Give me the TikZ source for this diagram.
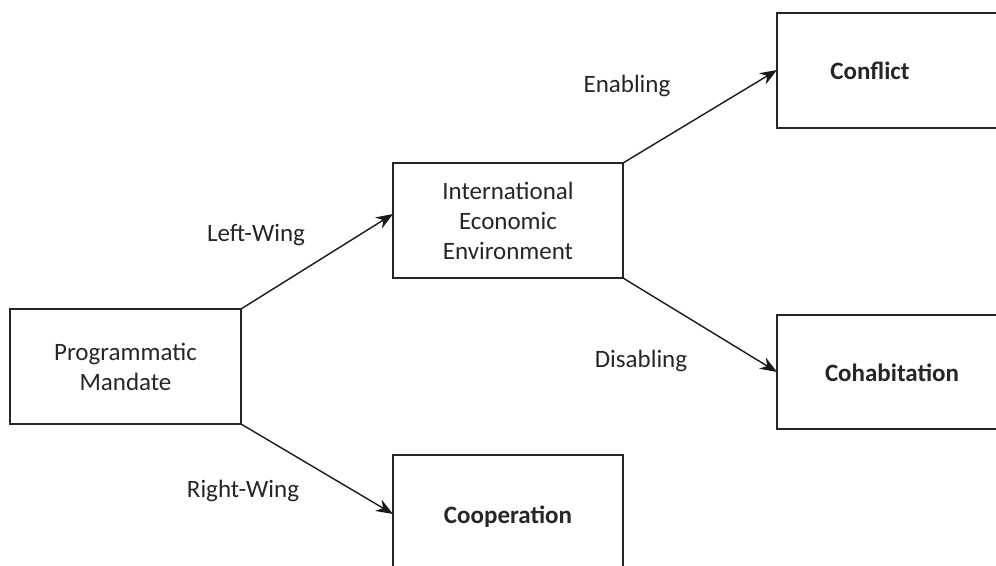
\documentclass[tikz,border=0pt]{standalone}
\usepackage{fontspec}
\setmainfont{Carlito}
\usetikzlibrary{arrows.meta}
\begin{document}
\begin{tikzpicture}[x=1pt,y=-1pt,
  box/.style={draw=black!85,line width=1.3pt,inner sep=0pt,outer sep=0pt,rectangle},
  txt/.style={font=\fontsize{25}{30}\selectfont,align=center,text=black!85,inner sep=0pt},
  btxt/.style={font=\fontsize{25}{30}\selectfont\bfseries,text=black!85,inner sep=0pt},
  lab/.style={font=\fontsize{25}{30}\selectfont,text=black!85,inner sep=0pt},
  arr/.style={draw=black!90,line width=1.4pt,-{Stealth[length=17pt,width=13pt]}}]
\useasboundingbox (0,0) rectangle (996,565);
\clip (0,0) rectangle (996,565);
% boxes
\node[box,minimum width=231pt,minimum height=115pt] (pm) at (125.5,366.5) {};
\node[txt] (pmt) at (125.5,367) {Programmatic\\Mandate};
\node[box,minimum width=230pt,minimum height=115pt] (iee) at (508,220.5) {};
\node[txt] (ieet) at (508,221) {International\\Economic\\Environment};
\node[box,minimum width=250pt,minimum height=115pt] (con) at (902,70.5) {};
\node[btxt] (cont) at (870,71) {Conflict};
\node[box,minimum width=250pt,minimum height=114pt] (coh) at (902,372) {};
\node[btxt] (coht) at (892,373) {Cohabitation};
\node[box,minimum width=230pt,minimum height=130pt] (coo) at (508,520) {};
\node[btxt] (coot) at (508,517) {Cooperation};
% labels
\node[lab] (lw) at (256,235) {Left-Wing};
\node[lab] (rw) at (243,491) {Right-Wing};
\node[lab] (en) at (627,86) {Enabling};
\node[lab] (dis) at (641,361) {Disabling};
% arrows
\draw[arr] (pm.north east) -- (iee.west |- 0,214);
\draw[arr] (pm.south east) -- (coo.west |- 0,514);
\draw[arr] (iee.north east) -- (con.west |- 0,70);
\draw[arr] (iee.south east) -- (coh.west |- 0,372);
\end{tikzpicture}
\end{document}
